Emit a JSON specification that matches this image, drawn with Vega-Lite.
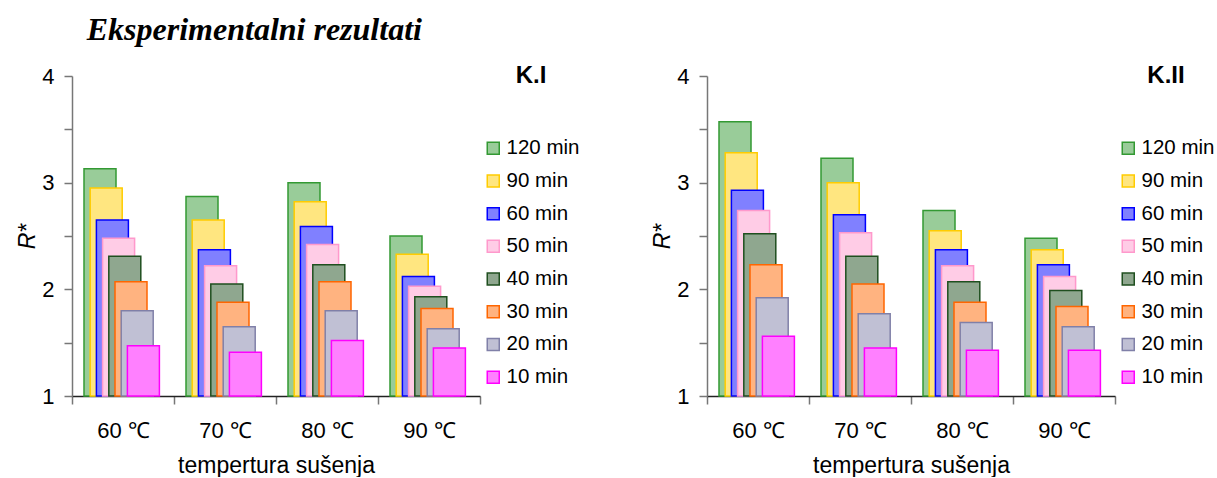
{
  "$schema": "https://vega.github.io/schema/vega-lite/v6.json",
  "background": "white",
  "padding": {"left": 16, "top": 14, "right": 0, "bottom": 0},
  "title": {"text": "Eksperimentalni rezultati", "font": "Liberation Serif", "fontSize": 32, "fontStyle": "italic", "fontWeight": "bold", "anchor": "start", "dx": 70, "offset": 18, "color": "black", "frame": "bounds"},
  "datasets": {
    "rows": [
      {"panel": "K.I", "temp": "60 ℃", "time": "120 min", "value": 3.13},
      {"panel": "K.I", "temp": "60 ℃", "time": "90 min", "value": 2.95},
      {"panel": "K.I", "temp": "60 ℃", "time": "60 min", "value": 2.65},
      {"panel": "K.I", "temp": "60 ℃", "time": "50 min", "value": 2.48},
      {"panel": "K.I", "temp": "60 ℃", "time": "40 min", "value": 2.31},
      {"panel": "K.I", "temp": "60 ℃", "time": "30 min", "value": 2.07},
      {"panel": "K.I", "temp": "60 ℃", "time": "20 min", "value": 1.80},
      {"panel": "K.I", "temp": "60 ℃", "time": "10 min", "value": 1.47},
      {"panel": "K.I", "temp": "70 ℃", "time": "120 min", "value": 2.87},
      {"panel": "K.I", "temp": "70 ℃", "time": "90 min", "value": 2.65},
      {"panel": "K.I", "temp": "70 ℃", "time": "60 min", "value": 2.37},
      {"panel": "K.I", "temp": "70 ℃", "time": "50 min", "value": 2.22},
      {"panel": "K.I", "temp": "70 ℃", "time": "40 min", "value": 2.05},
      {"panel": "K.I", "temp": "70 ℃", "time": "30 min", "value": 1.88},
      {"panel": "K.I", "temp": "70 ℃", "time": "20 min", "value": 1.65},
      {"panel": "K.I", "temp": "70 ℃", "time": "10 min", "value": 1.41},
      {"panel": "K.I", "temp": "80 ℃", "time": "120 min", "value": 3.00},
      {"panel": "K.I", "temp": "80 ℃", "time": "90 min", "value": 2.82},
      {"panel": "K.I", "temp": "80 ℃", "time": "60 min", "value": 2.59},
      {"panel": "K.I", "temp": "80 ℃", "time": "50 min", "value": 2.42},
      {"panel": "K.I", "temp": "80 ℃", "time": "40 min", "value": 2.23},
      {"panel": "K.I", "temp": "80 ℃", "time": "30 min", "value": 2.07},
      {"panel": "K.I", "temp": "80 ℃", "time": "20 min", "value": 1.80},
      {"panel": "K.I", "temp": "80 ℃", "time": "10 min", "value": 1.52},
      {"panel": "K.I", "temp": "90 ℃", "time": "120 min", "value": 2.50},
      {"panel": "K.I", "temp": "90 ℃", "time": "90 min", "value": 2.33},
      {"panel": "K.I", "temp": "90 ℃", "time": "60 min", "value": 2.12},
      {"panel": "K.I", "temp": "90 ℃", "time": "50 min", "value": 2.03},
      {"panel": "K.I", "temp": "90 ℃", "time": "40 min", "value": 1.93},
      {"panel": "K.I", "temp": "90 ℃", "time": "30 min", "value": 1.82},
      {"panel": "K.I", "temp": "90 ℃", "time": "20 min", "value": 1.63},
      {"panel": "K.I", "temp": "90 ℃", "time": "10 min", "value": 1.45},
      {"panel": "K.II", "temp": "60 ℃", "time": "120 min", "value": 3.57},
      {"panel": "K.II", "temp": "60 ℃", "time": "90 min", "value": 3.28},
      {"panel": "K.II", "temp": "60 ℃", "time": "60 min", "value": 2.93},
      {"panel": "K.II", "temp": "60 ℃", "time": "50 min", "value": 2.74},
      {"panel": "K.II", "temp": "60 ℃", "time": "40 min", "value": 2.52},
      {"panel": "K.II", "temp": "60 ℃", "time": "30 min", "value": 2.23},
      {"panel": "K.II", "temp": "60 ℃", "time": "20 min", "value": 1.92},
      {"panel": "K.II", "temp": "60 ℃", "time": "10 min", "value": 1.56},
      {"panel": "K.II", "temp": "70 ℃", "time": "120 min", "value": 3.23},
      {"panel": "K.II", "temp": "70 ℃", "time": "90 min", "value": 3.00},
      {"panel": "K.II", "temp": "70 ℃", "time": "60 min", "value": 2.70},
      {"panel": "K.II", "temp": "70 ℃", "time": "50 min", "value": 2.53},
      {"panel": "K.II", "temp": "70 ℃", "time": "40 min", "value": 2.31},
      {"panel": "K.II", "temp": "70 ℃", "time": "30 min", "value": 2.05},
      {"panel": "K.II", "temp": "70 ℃", "time": "20 min", "value": 1.77},
      {"panel": "K.II", "temp": "70 ℃", "time": "10 min", "value": 1.45},
      {"panel": "K.II", "temp": "80 ℃", "time": "120 min", "value": 2.74},
      {"panel": "K.II", "temp": "80 ℃", "time": "90 min", "value": 2.55},
      {"panel": "K.II", "temp": "80 ℃", "time": "60 min", "value": 2.37},
      {"panel": "K.II", "temp": "80 ℃", "time": "50 min", "value": 2.22},
      {"panel": "K.II", "temp": "80 ℃", "time": "40 min", "value": 2.07},
      {"panel": "K.II", "temp": "80 ℃", "time": "30 min", "value": 1.88},
      {"panel": "K.II", "temp": "80 ℃", "time": "20 min", "value": 1.69},
      {"panel": "K.II", "temp": "80 ℃", "time": "10 min", "value": 1.43},
      {"panel": "K.II", "temp": "90 ℃", "time": "120 min", "value": 2.48},
      {"panel": "K.II", "temp": "90 ℃", "time": "90 min", "value": 2.37},
      {"panel": "K.II", "temp": "90 ℃", "time": "60 min", "value": 2.23},
      {"panel": "K.II", "temp": "90 ℃", "time": "50 min", "value": 2.12},
      {"panel": "K.II", "temp": "90 ℃", "time": "40 min", "value": 1.99},
      {"panel": "K.II", "temp": "90 ℃", "time": "30 min", "value": 1.84},
      {"panel": "K.II", "temp": "90 ℃", "time": "20 min", "value": 1.65},
      {"panel": "K.II", "temp": "90 ℃", "time": "10 min", "value": 1.43}
    ]
  },
  "data": {"name": "rows"},
  "spacing": 71,
  "resolve": {"legend": {"fill": "independent", "stroke": "independent"}},
  "hconcat": [
    {
      "width": 408, "height": 320,
      "transform": [{"filter": "datum.panel === 'K.I'"}],
      "mark": {"type": "bar", "width": 32, "strokeWidth": 1.5},
      "encoding": {
        "x": {"field": "temp", "type": "nominal", "scale": {"domain": ["60 ℃", "70 ℃", "80 ℃", "90 ℃"], "paddingInner": 0, "paddingOuter": 0}, "axis": {"title": "tempertura sušenja", "labelAngle": 0, "tickBand": "extent", "tickSize": 8, "labelPadding": 16, "titlePadding": 13, "domainColor": "#222222"}},
        "xOffset": {"field": "time", "type": "nominal", "scale": {"type": "point", "domain": ["120 min", "90 min", "60 min", "50 min", "40 min", "30 min", "20 min", "10 min"], "range": [28, 71.4], "padding": 0}},
        "y": {"field": "value", "type": "quantitative", "scale": {"domain": [1, 4], "nice": false, "zero": false}, "axis": {"title": "R*", "values": [1, 1.5, 2, 2.5, 3, 3.5, 4], "labelExpr": "datum.value % 1 === 0 ? format(datum.value, 'd') : ''", "tickSize": 8, "labelPadding": 10, "titlePadding": 2, "titleFontStyle": "italic"}},
        "y2": {"datum": 1},
        "fill": {"field": "time", "type": "nominal", "scale": {"domain": ["120 min", "90 min", "60 min", "50 min", "40 min", "30 min", "20 min", "10 min"], "range": ["#99cc99", "#ffe680", "#8080ff", "#ffcce6", "#8fa78f", "#ffb380", "#c0c0d4", "#ff80ff"]}, "legend": {"title": "K.I"}},
        "stroke": {"field": "time", "type": "nominal", "scale": {"domain": ["120 min", "90 min", "60 min", "50 min", "40 min", "30 min", "20 min", "10 min"], "range": ["#339933", "#ffcc00", "#0000ff", "#ff99cc", "#1f4f1f", "#ff6600", "#8080a8", "#ff00ff"]}, "legend": {"title": "K.I"}}
      }
    },
    {
      "width": 408, "height": 320,
      "transform": [{"filter": "datum.panel === 'K.II'"}],
      "mark": {"type": "bar", "width": 32, "strokeWidth": 1.5},
      "encoding": {
        "x": {"field": "temp", "type": "nominal", "scale": {"domain": ["60 ℃", "70 ℃", "80 ℃", "90 ℃"], "paddingInner": 0, "paddingOuter": 0}, "axis": {"title": "tempertura sušenja", "labelAngle": 0, "tickBand": "extent", "tickSize": 8, "labelPadding": 16, "titlePadding": 13, "domainColor": "#222222"}},
        "xOffset": {"field": "time", "type": "nominal", "scale": {"type": "point", "domain": ["120 min", "90 min", "60 min", "50 min", "40 min", "30 min", "20 min", "10 min"], "range": [28, 71.4], "padding": 0}},
        "y": {"field": "value", "type": "quantitative", "scale": {"domain": [1, 4], "nice": false, "zero": false}, "axis": {"title": "R*", "values": [1, 1.5, 2, 2.5, 3, 3.5, 4], "labelExpr": "datum.value % 1 === 0 ? format(datum.value, 'd') : ''", "tickSize": 8, "labelPadding": 10, "titlePadding": 2, "titleFontStyle": "italic"}},
        "y2": {"datum": 1},
        "fill": {"field": "time", "type": "nominal", "scale": {"domain": ["120 min", "90 min", "60 min", "50 min", "40 min", "30 min", "20 min", "10 min"], "range": ["#99cc99", "#ffe680", "#8080ff", "#ffcce6", "#8fa78f", "#ffb380", "#c0c0d4", "#ff80ff"]}, "legend": {"title": "K.II"}},
        "stroke": {"field": "time", "type": "nominal", "scale": {"domain": ["120 min", "90 min", "60 min", "50 min", "40 min", "30 min", "20 min", "10 min"], "range": ["#339933", "#ffcc00", "#0000ff", "#ff99cc", "#1f4f1f", "#ff6600", "#8080a8", "#ff00ff"]}, "legend": {"title": "K.II"}}
      }
    }
  ],
  "config": {
    "view": {"stroke": null},
    "font": "Liberation Sans",
    "axis": {"labelFont": "Liberation Sans", "titleFont": "Liberation Sans", "labelFontSize": 22, "titleFontSize": 23, "labelColor": "black", "titleColor": "black", "titleFontWeight": "normal", "domainColor": "#777777", "tickColor": "#777777", "domainWidth": 1.5, "tickWidth": 1.5, "grid": false},
    "legend": {"symbolType": "square", "symbolSize": 144, "symbolStrokeWidth": 1.5, "labelFont": "Liberation Sans", "labelFontSize": 20.5, "labelColor": "black", "titleFont": "Liberation Sans", "titleFontSize": 24, "titleFontWeight": "bold", "titleColor": "black", "titleAnchor": "middle", "titleBaseline": "middle", "titlePadding": 38, "rowPadding": 11.7, "offset": 3, "padding": 0, "labelOffset": 3}
  }
}
